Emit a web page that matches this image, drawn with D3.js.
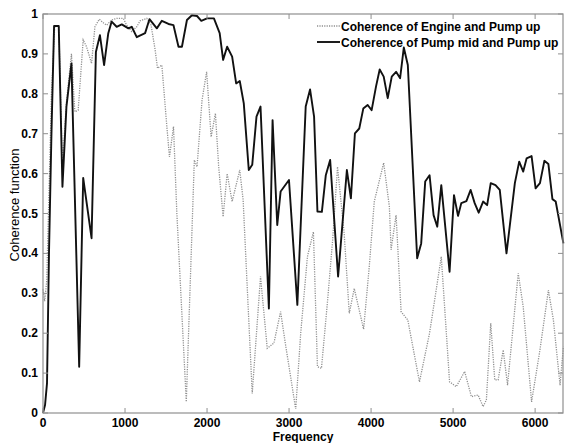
<!DOCTYPE html>
<html>
<head>
<meta charset="utf-8">
<script src="https://cdn.jsdelivr.net/npm/d3@7"></script>
<style>
  body { margin: 0; background: #fff; }
  svg { display: block; font-family: 'Liberation Sans', Arial, sans-serif; }
  .tick-label { font-size: 12px; font-weight: bold; fill: #000; }
  .legend-text { font-size: 12px; font-weight: bold; fill: #000; }
</style>
</head>
<body>
<svg id="chart" width="565" height="443"></svg>
<script>
// values
const xTicks = [0, 1000, 2000, 3000, 4000, 5000, 6000];
const yTicks = [0, 0.1, 0.2, 0.3, 0.4, 0.5, 0.6, 0.7, 0.8, 0.9, 1];

const pumpFreq = [0, 25, 49, 73, 103, 135, 192, 237, 286, 347, 441, 490, 592, 645, 694, 745, 796, 837, 898, 960,
  1041, 1082, 1143, 1245, 1298, 1388, 1449, 1530, 1591, 1652, 1694, 1755, 1816, 1878, 1930, 2000, 2084, 2154, 2196, 2245,
  2306, 2355, 2399, 2448, 2509, 2551, 2603, 2652, 2754, 2799, 2856, 2897, 2999, 3101, 3203, 3256, 3305, 3346, 3400, 3448,
  3501, 3598, 3705, 3754, 3803, 3856, 3905, 3958, 4007, 4060, 4105, 4154, 4203, 4252, 4305, 4354, 4399, 4448, 4562, 4611,
  4660, 4713, 4762, 4807, 4856, 4957, 5011, 5060, 5100, 5162, 5214, 5263, 5312, 5366, 5415, 5459, 5517, 5569, 5651, 5753,
  5806, 5855, 5896, 5957, 6006, 6059, 6113, 6162, 6211, 6251, 6345];
const pumpVal = [0, 0.02, 0.075, 0.40, 0.70, 0.97, 0.97, 0.567, 0.768, 0.876, 0.116, 0.589, 0.438, 0.905, 0.947, 0.872, 0.952, 0.981, 0.968, 0.974,
  0.964, 0.968, 0.942, 0.952, 0.987, 0.964, 0.983, 0.975, 0.972, 0.918, 0.918, 0.985, 0.997, 0.995, 0.983, 0.989, 0.989, 0.952, 0.885, 0.918,
  0.893, 0.826, 0.832, 0.776, 0.609, 0.622, 0.743, 0.768, 0.262, 0.734, 0.471, 0.555, 0.584, 0.271, 0.768, 0.811, 0.743, 0.505, 0.504, 0.596,
  0.634, 0.342, 0.609, 0.538, 0.701, 0.713, 0.763, 0.772, 0.759, 0.818, 0.861, 0.843, 0.789, 0.843, 0.855, 0.839, 0.916, 0.872, 0.388, 0.425,
  0.58, 0.596, 0.496, 0.467, 0.571, 0.354, 0.546, 0.494, 0.526, 0.531, 0.559, 0.526, 0.502, 0.53, 0.521, 0.576, 0.571, 0.559, 0.40, 0.576,
  0.63, 0.605, 0.638, 0.644, 0.563, 0.576, 0.632, 0.624, 0.536, 0.53, 0.425];

const engineFreq = [0, 20, 45, 73, 103, 143, 192, 237, 286, 347, 388, 429, 490, 531, 592, 633, 686, 735, 776, 837,
  898, 979, 1020, 1082, 1143, 1184, 1265, 1318, 1367, 1396, 1449, 1510, 1542, 1591, 1632, 1747, 1845, 1878, 1939, 1995,
  2050, 2102, 2142, 2196, 2245, 2306, 2399, 2440, 2551, 2652, 2734, 2815, 2897, 2958, 3081, 3142, 3224, 3297, 3346, 3395,
  3469, 3530, 3591, 3672, 3734, 3795, 3909, 3978, 4039, 4154, 4223, 4244, 4305, 4366, 4448, 4590, 4713, 4856, 4957, 5039,
  5141, 5223, 5305, 5366, 5406, 5459, 5508, 5549, 5611, 5664, 5794, 5855, 5957, 6059, 6162, 6223, 6304, 6345];
const engineVal = [0.31, 0.28, 0.33, 0.55, 0.80, 0.97, 0.97, 0.62, 0.78, 0.90, 0.755, 0.759, 0.935, 0.918, 0.876, 0.968, 0.987, 0.978, 0.972, 0.985,
  0.989, 0.989, 0.972, 0.956, 0.968, 0.983, 0.989, 0.972, 0.91, 0.864, 0.872, 0.718, 0.642, 0.718, 0.50, 0.028, 0.634, 0.617, 0.784, 0.855,
  0.692, 0.751, 0.617, 0.492, 0.60, 0.53, 0.609, 0.534, 0.049, 0.342, 0.162, 0.175, 0.254, 0.17, 0.01, 0.20, 0.392, 0.454, 0.116, 0.112,
  0.28, 0.43, 0.617, 0.45, 0.25, 0.312, 0.21, 0.367, 0.53, 0.627, 0.517, 0.409, 0.496, 0.254, 0.233, 0.078, 0.20, 0.392, 0.078, 0.066,
  0.104, 0.041, 0.045, 0.016, 0.033, 0.225, 0.083, 0.083, 0.158, 0.070, 0.35, 0.266, 0.028, 0.158, 0.308, 0.233, 0.070, 0.166];

const svg = d3.select('#chart');
const plotLeft = 43, plotRight = 563, plotTop = 14, plotBottom = 413;

const xScale = d3.scaleLinear().domain([0, 6340]).range([plotLeft, plotRight]);
const yScale = d3.scaleLinear().domain([0, 1]).range([plotBottom, plotTop]);

const toPoints = (fs, vs) => fs.map((f, i) => [f, vs[i]]);
const line = d3.line().x((d) => xScale(d[0])).y((d) => yScale(d[1]));

const plot = svg.append('g');
plot.append('path')
  .attr('d', line(toPoints(engineFreq, engineVal)))
  .attr('fill', 'none')
  .attr('stroke', '#909090')
  .attr('stroke-width', 1.3)
  .attr('stroke-dasharray', '1.2,1.2');
plot.append('path')
  .attr('d', line(toPoints(pumpFreq, pumpVal)))
  .attr('fill', 'none')
  .attr('stroke', '#111')
  .attr('stroke-width', 1.9)
  .attr('stroke-linejoin', 'round');

// frame and inward ticks on all four sides
const frame = '#8f8f8f';
svg.append('rect')
  .attr('x', plotLeft).attr('y', plotTop)
  .attr('width', plotRight - plotLeft).attr('height', plotBottom - plotTop)
  .attr('fill', 'none').attr('stroke', frame).attr('stroke-width', 1.2);

const tickLen = 5;
xTicks.forEach((t) => {
  const x = xScale(t);
  svg.append('line').attr('x1', x).attr('x2', x).attr('y1', plotBottom).attr('y2', plotBottom - tickLen)
    .attr('stroke', frame);
  svg.append('line').attr('x1', x).attr('x2', x).attr('y1', plotTop).attr('y2', plotTop + tickLen)
    .attr('stroke', frame);
  svg.append('text').attr('class', 'tick-label')
    .attr('x', x).attr('y', 427)
    .attr('text-anchor', 'middle')
    .text(t);
});
yTicks.forEach((t) => {
  const y = yScale(t);
  svg.append('line').attr('x1', plotLeft).attr('x2', plotLeft + tickLen).attr('y1', y).attr('y2', y)
    .attr('stroke', frame);
  svg.append('line').attr('x1', plotRight).attr('x2', plotRight - tickLen).attr('y1', y).attr('y2', y)
    .attr('stroke', frame);
  svg.append('text').attr('class', 'tick-label')
    .attr('x', 38).attr('y', y + 4)
    .attr('text-anchor', 'end')
    .text(d3.format('~g')(t));
});

svg.append('text')
  .attr('x', (plotLeft + plotRight) / 2).attr('y', 441)
  .attr('text-anchor', 'middle')
  .style('font-size', '12px').style('font-weight', 'bold')
  .text('Frequency');

svg.append('text')
  .attr('transform', 'translate(19,205) rotate(-90)')
  .attr('text-anchor', 'middle')
  .style('font-size', '13px')
  .text('Coherence function');

// legend, no box
const legend = svg.append('g');
legend.append('line').attr('x1', 317).attr('x2', 340).attr('y1', 26).attr('y2', 26)
  .attr('stroke', '#909090').attr('stroke-width', 1.3).attr('stroke-dasharray', '1.2,1.2');
legend.append('line').attr('x1', 317).attr('x2', 340).attr('y1', 42).attr('y2', 42)
  .attr('stroke', '#111').attr('stroke-width', 1.9);
legend.append('text').attr('class', 'legend-text').attr('x', 341).attr('y', 30.5)
  .text('Coherence of Engine and Pump up');
legend.append('text').attr('class', 'legend-text').attr('x', 341).attr('y', 46.5)
  .text('Coherence of Pump mid and Pump up');
</script>
</body>
</html>
